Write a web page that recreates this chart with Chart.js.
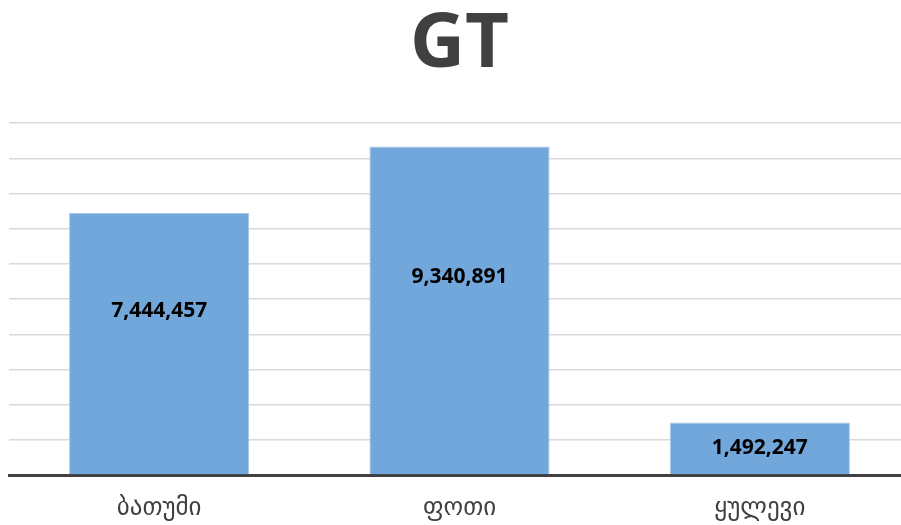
<!DOCTYPE html>
<html>
<head>
<meta charset="utf-8">
<script src="https://cdn.jsdelivr.net/npm/chart.js@4"></script>
<style>
  html, body { margin: 0; padding: 0; background: #fff; overflow: hidden; }
  #wrap { width: 901px; height: 525px; overflow: hidden; }
  #box { width: 910px; height: 525px; }
</style>
</head>
<body>
<div id="wrap"><div id="box"><canvas id="gtChart"></canvas></div></div>
<script>
const categories = ["ბათუმი", "ფოთი", "ყულევი"];
const values = [7444457, 9340891, 1492247];
const yMax = 10000000;
const yStep = 1000000;

// bar value labels, drawn a bit above centre on tall bars
const valueLabels = {
  id: "valueLabels",
  afterDatasetsDraw(chart) {
    const ctx = chart.ctx;
    const meta = chart.getDatasetMeta(0);
    ctx.save();
    ctx.font = "bold 21px 'Open Sans', sans-serif";
    ctx.fillStyle = "#000";
    ctx.textAlign = "center";
    ctx.textBaseline = "middle";
    meta.data.forEach((bar, i) => {
      const h = bar.base - bar.y;
      let y = bar.y + h / 2;
      if (h > 100) y -= 33;
      ctx.fillText(values[i].toLocaleString("en-US"), bar.x, y);
    });
    ctx.restore();
  }
};

new Chart(document.getElementById("gtChart").getContext("2d"), {
  type: "bar",
  data: {
    labels: categories,
    datasets: [{
      data: values,
      backgroundColor: "#71a7db",
      borderColor: "#a6c8e8",
      borderWidth: 1,
      categoryPercentage: 1,
      barPercentage: 0.6
    }]
  },
  options: {
    responsive: true,
    maintainAspectRatio: false,
    animation: false,
    layout: { padding: { left: 9, right: 0, top: 0, bottom: 0 } },
    plugins: {
      legend: { display: false },
      tooltip: { enabled: false },
      title: {
        display: true,
        text: "GT",
        color: "#404040",
        font: { family: "'Open Sans', sans-serif", size: 76, weight: "bold" },
        padding: { top: 0, bottom: 32 }
      }
    },
    scales: {
      x: {
        afterFit: (scale) => { scale.height = 50; },
        grid: { display: false },
        border: { display: true, color: "#404040", width: 3 },
        ticks: {
          color: "#404040",
          padding: 10,
          font: { family: "'DejaVu Sans', sans-serif", size: 25 }
        }
      },
      y: {
        min: 0,
        max: yMax,
        ticks: { display: false, stepSize: yStep },
        grid: { color: "#d9d9d9", lineWidth: 1.5, drawTicks: false },
        border: { display: false }
      }
    }
  },
  plugins: [valueLabels]
});
</script>
</body>
</html>
